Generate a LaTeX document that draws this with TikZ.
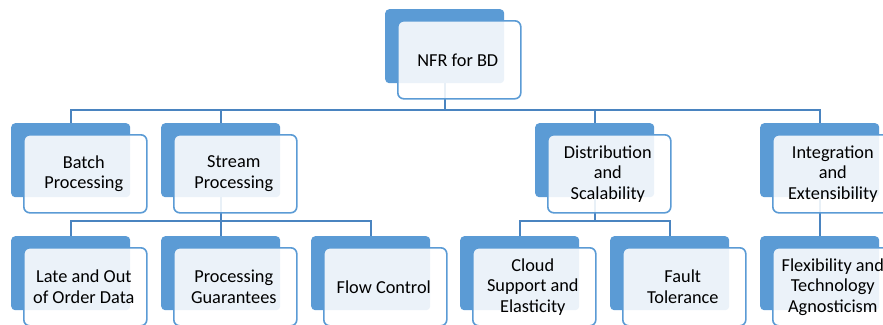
\documentclass[tikz,border=0pt]{standalone}
\usepackage{fontspec}
\setmainfont{Carlito}
\definecolor{backblue}{HTML}{5B9BD5}
\definecolor{frontline}{HTML}{5B9BD5}
\definecolor{connblue}{HTML}{4A84C0}
\tikzset{
  backbox/.style={draw=none, fill=backblue, rounded corners=4pt, anchor=north west,
    minimum width=119pt, minimum height=74pt, inner sep=0pt},
  frontbox/.style={draw=frontline, line width=1.6pt, fill=white, fill opacity=0.88, text opacity=1,
    rounded corners=6pt, anchor=north west, minimum width=123pt, minimum height=78pt,
    inner sep=0pt},
  cardtext/.style={align=center, font=\fontsize{18.3}{20.5}\selectfont, text=black, inner sep=0pt},
  conn/.style={draw=connblue, line width=2pt},
}
\newcommand{\front}[4]{%
  \node[frontbox] (f-#1) at (#2+12,#3+11) {};
  \node[cardtext] (t-#1) at ([xshift=-1.5pt]f-#1.center) {#4};
}
\begin{document}
\begin{tikzpicture}[x=1pt,y=-1pt]
\useasboundingbox (0,0) rectangle (883,324);
\clip (0,0) rectangle (883,324);
% back boxes
\node[backbox] (b-root) at (385,9) {};
\node[backbox] (b-batch) at (11,123) {};
\node[backbox] (b-stream) at (161,123) {};
\node[backbox] (b-dist) at (535,123) {};
\node[backbox] (b-integ) at (760,123) {};
\node[backbox] (b-late) at (11,236) {};
\node[backbox] (b-guar) at (161,236) {};
\node[backbox] (b-flow) at (311,236) {};
\node[backbox] (b-cloud) at (460,236) {};
\node[backbox] (b-fault) at (610,236) {};
\node[backbox] (b-flex) at (760,236) {};
\coordinate (bus0) at (0,110);
\coordinate (bus1) at (0,221);
% connectors
\foreach \c in {batch,stream,dist,integ}
  \draw[conn] (b-root.south) -- (b-root.south |- bus0) -| (b-\c.north);
\foreach \c in {late,guar,flow}
  \draw[conn] (b-stream.south) -- (b-stream.south |- bus1) -| (b-\c.north);
\foreach \c in {cloud,fault}
  \draw[conn] (b-dist.south) -- (b-dist.south |- bus1) -| (b-\c.north);
\draw[conn] (b-integ.south) -- (b-flex.north);
% front boxes with text
\front{root}{385}{9}{NFR for BD}
\front{batch}{11}{123}{Batch\\Processing}
\front{stream}{161}{123}{Stream\\Processing}
\front{dist}{535}{123}{Distribution\\and\\Scalability}
\front{integ}{760}{123}{Integration\\and\\Extensibility}
\front{late}{11}{236}{Late and Out\\of Order Data}
\front{guar}{161}{236}{Processing\\Guarantees}
\front{flow}{311}{236}{Flow Control}
\front{cloud}{460}{236}{Cloud\\Support and\\Elasticity}
\front{fault}{610}{236}{Fault\\Tolerance}
\front{flex}{760}{236}{Flexibility and\\Technology\\Agnosticism}
\end{tikzpicture}
\end{document}
